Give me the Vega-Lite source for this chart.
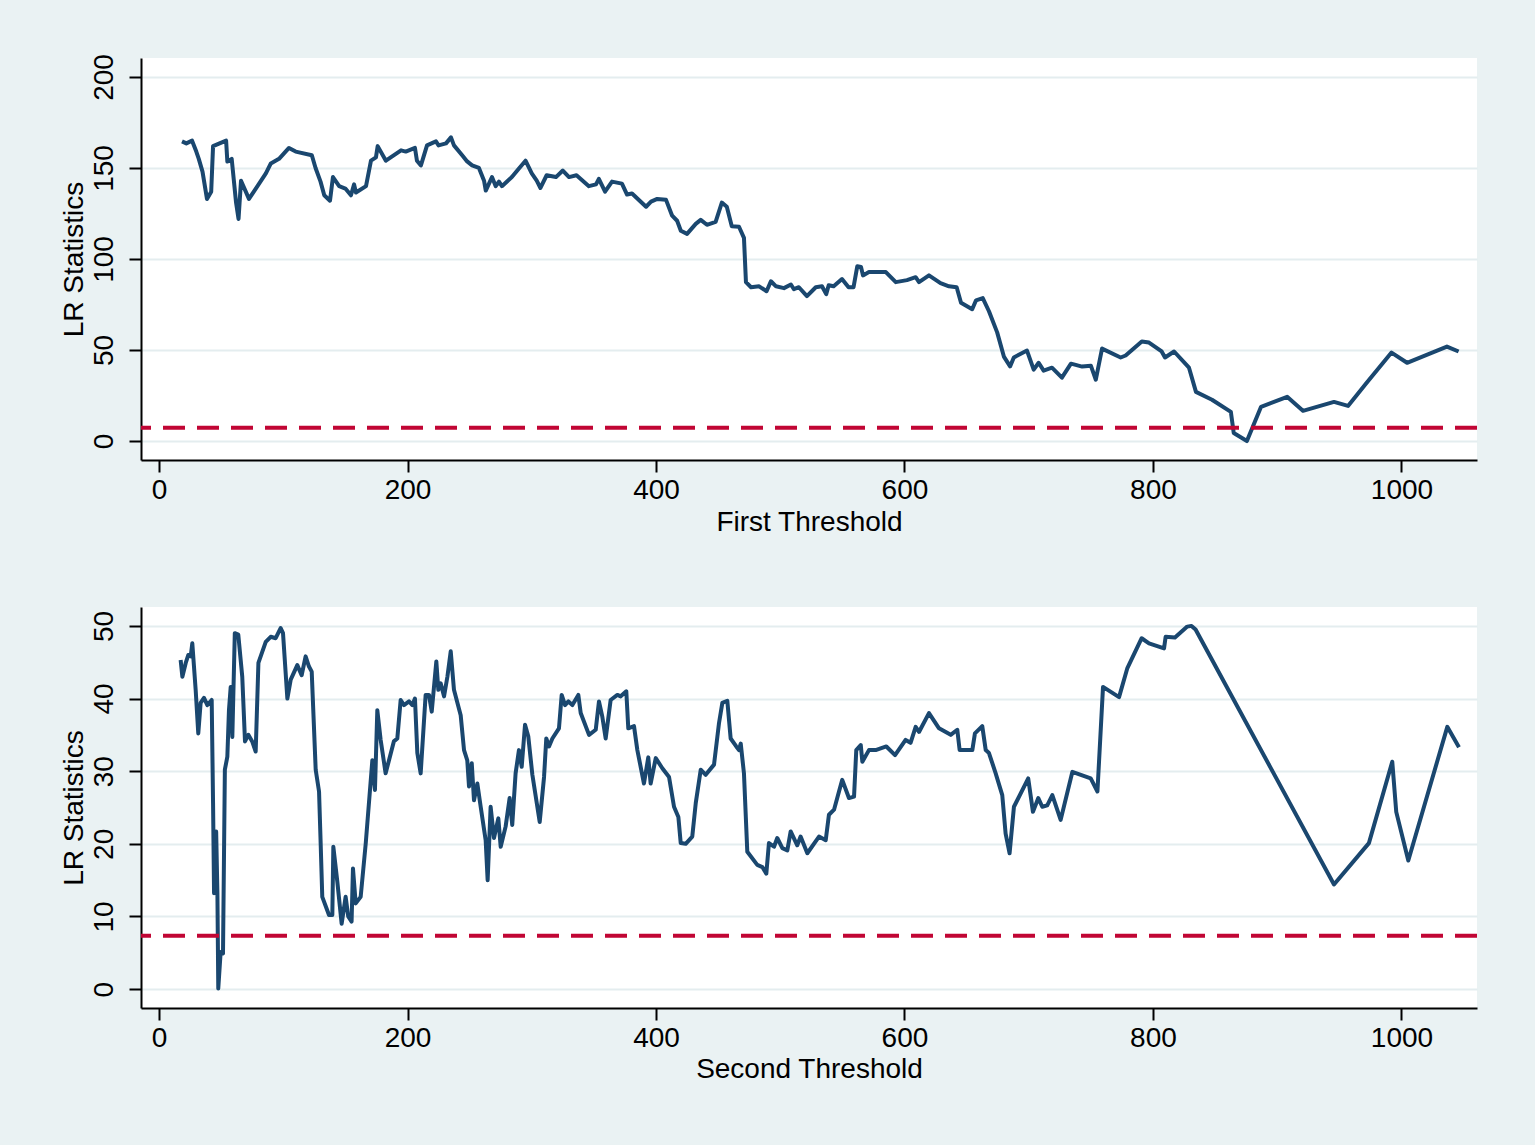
{
  "$schema": "https://vega.github.io/schema/vega-lite/v6.json",
  "background": "#eaf2f3",
  "padding": {"left": 59, "top": 53, "right": 57, "bottom": 66},
  "spacing": 147,
  "bounds": "flush",
  "config": {
    "font": "Liberation Sans",
    "view": {"stroke": null, "fill": "white"},
    "axis": {
      "domainColor": "black", "domainWidth": 2,
      "tickColor": "black", "tickWidth": 2, "tickSize": 12,
      "labelFontSize": 28, "titleFontSize": 28,
      "labelColor": "black", "titleColor": "black",
      "titleFontWeight": "normal", "labelFont": "Liberation Sans", "titleFont": "Liberation Sans",
      "gridColor": "#e4edef", "gridWidth": 2
    }
  },
  "datasets": {
    "top": [
      {"x":18.5,"y":164.6},{"x":22,"y":163.5},{"x":26.6,"y":165},{"x":30,"y":159},{"x":32,"y":155},{"x":35,"y":148},{"x":38.6,"y":133},{"x":42,"y":137},{"x":43.5,"y":162},{"x":54,"y":165},{"x":55,"y":153.5},{"x":58.5,"y":155},{"x":62,"y":131},{"x":64,"y":122},{"x":66,"y":143},{"x":72.4,"y":133},{"x":86,"y":147},{"x":90,"y":152.5},{"x":96.6,"y":155},{"x":104.6,"y":161},{"x":110,"y":159},{"x":123,"y":157},{"x":126,"y":150},{"x":130,"y":142.5},{"x":133,"y":135},{"x":137.6,"y":132},{"x":140,"y":145},{"x":145,"y":140},{"x":150,"y":138.7},{"x":154.5,"y":135},{"x":157,"y":141},{"x":158.5,"y":136.5},{"x":166.6,"y":140},{"x":170.6,"y":154},{"x":174.6,"y":155.8},{"x":176,"y":162},{"x":182.6,"y":154},{"x":194.8,"y":159.7},{"x":198.6,"y":159},{"x":206,"y":161},{"x":207.6,"y":154},{"x":210.8,"y":151.4},{"x":215.7,"y":162.4},{"x":222.9,"y":164.6},{"x":225,"y":162.4},{"x":231,"y":163.5},{"x":235,"y":166.8},{"x":237.4,"y":162.4},{"x":244,"y":157},{"x":248,"y":153.6},{"x":252,"y":151.4},{"x":257.5,"y":150},{"x":261.6,"y":143},{"x":263,"y":137.6},{"x":268,"y":145},{"x":271,"y":140},{"x":273.6,"y":142.5},{"x":276,"y":140},{"x":284,"y":145},{"x":289.7,"y":149.7},{"x":295,"y":154},{"x":300,"y":147},{"x":304,"y":143},{"x":307,"y":139},{"x":312,"y":146},{"x":319.5,"y":145},{"x":325,"y":148.6},{"x":330,"y":145},{"x":336,"y":146},{"x":346,"y":140},{"x":351.7,"y":141},{"x":354,"y":144},{"x":359,"y":137},{"x":364.6,"y":142.5},{"x":372.6,"y":141.4},{"x":376.7,"y":135.4},{"x":380.7,"y":136},{"x":392,"y":128.7},{"x":396,"y":131.5},{"x":401,"y":133},{"x":408,"y":132.6},{"x":413,"y":123.8},{"x":417,"y":121},{"x":420,"y":115.5},{"x":425,"y":113.8},{"x":432,"y":119.3},{"x":436,"y":121.5},{"x":441,"y":118.8},{"x":448,"y":120.4},{"x":453,"y":131},{"x":457,"y":128.7},{"x":461,"y":118},{"x":466.8,"y":117.7},{"x":470.8,"y":111.6},{"x":472.4,"y":87.3},{"x":476.5,"y":84.5},{"x":483,"y":85},{"x":489,"y":82.3},{"x":492.5,"y":87.8},{"x":496.6,"y":85},{"x":503,"y":84},{"x":508.6,"y":86},{"x":511,"y":83.4},{"x":515,"y":84.5},{"x":521.5,"y":79.6},{"x":528.6,"y":84.5},{"x":533.6,"y":85},{"x":537,"y":80.7},{"x":539,"y":85.6},{"x":543,"y":85},{"x":549.7,"y":89},{"x":555,"y":84.5},{"x":559,"y":84.5},{"x":562,"y":96},{"x":565,"y":95.6},{"x":566.6,"y":91},{"x":571.4,"y":92.8},{"x":585,"y":92.8},{"x":593,"y":87.3},{"x":602,"y":88.4},{"x":609,"y":90},{"x":611.7,"y":87.3},{"x":619.7,"y":91},{"x":629,"y":86.7},{"x":635.8,"y":85},{"x":642,"y":84.5},{"x":645.5,"y":76},{"x":654.5,"y":72.4},{"x":657.6,"y":77.3},{"x":663,"y":78.5},{"x":668,"y":71.3},{"x":674.6,"y":59.7},{"x":680,"y":46.4},{"x":685,"y":41},{"x":688,"y":45.9},{"x":698.6,"y":49.7},{"x":704,"y":39.2},{"x":708,"y":43},{"x":712,"y":38.7},{"x":718.7,"y":40.3},{"x":726.7,"y":34.8},{"x":734,"y":42.5},{"x":743,"y":40.9},{"x":750,"y":41.4},{"x":754,"y":33.7},{"x":759,"y":50.8},{"x":774,"y":45.9},{"x":778,"y":47},{"x":791,"y":54.7},{"x":796.8,"y":54.1},{"x":807,"y":49.2},{"x":809.7,"y":45.9},{"x":817,"y":49.2},{"x":829,"y":40.3},{"x":834.6,"y":27},{"x":847.5,"y":22.7},{"x":862.7,"y":16},{"x":865,"y":4.4},{"x":875.6,"y":0},{"x":887,"y":18.8},{"x":908,"y":24.3},{"x":920.7,"y":16.6},{"x":945.7,"y":21.5},{"x":957,"y":19.3},{"x":972,"y":32},{"x":992,"y":48.6},{"x":1004.5,"y":43},{"x":1036.6,"y":51.9},{"x":1046,"y":49.2}
    ],
    "bottom": [
      {"x":17.4,"y":45.3},{"x":18.8,"y":43},{"x":21.5,"y":44.9},{"x":23.6,"y":46},{"x":25.5,"y":45.8},{"x":26.8,"y":47.6},{"x":29.5,"y":41.2},{"x":31.6,"y":35.2},{"x":33.5,"y":39.4},{"x":36.2,"y":40.1},{"x":38.9,"y":39.1},{"x":42.4,"y":39.8},{"x":43.5,"y":25.6},{"x":44.3,"y":13.2},{"x":46,"y":21.7},{"x":47,"y":13.2},{"x":47.7,"y":0.1},{"x":49.6,"y":5.1},{"x":51.5,"y":4.9},{"x":53,"y":30.2},{"x":55,"y":32},{"x":56.3,"y":38.4},{"x":57.7,"y":41.6},{"x":59,"y":34.7},{"x":61,"y":49},{"x":63.8,"y":48.8},{"x":67,"y":43},{"x":69.2,"y":34.1},{"x":71.9,"y":35},{"x":75,"y":34.1},{"x":77.8,"y":32.7},{"x":80,"y":44.9},{"x":85.9,"y":47.8},{"x":89.9,"y":48.5},{"x":93.9,"y":48.3},{"x":97.9,"y":49.7},{"x":99.8,"y":49},{"x":103.3,"y":40},{"x":106,"y":42.6},{"x":111.3,"y":44.6},{"x":114.8,"y":43.2},{"x":118,"y":45.8},{"x":120.7,"y":44.4},{"x":122.9,"y":43.7},{"x":126.1,"y":30.2},{"x":128.8,"y":27.2},{"x":130.1,"y":20.1},{"x":131.4,"y":12.7},{"x":136.8,"y":10.2},{"x":139.5,"y":10.2},{"x":140.3,"y":19.6},{"x":143.5,"y":14.8},{"x":147,"y":9},{"x":150.2,"y":12.7},{"x":152.3,"y":10},{"x":155,"y":9.3},{"x":156.1,"y":16.6},{"x":158.3,"y":11.8},{"x":162.3,"y":12.7},{"x":166.4,"y":20.1},{"x":171.7,"y":31.5},{"x":173.8,"y":27.4},{"x":175.7,"y":38.4},{"x":178.4,"y":34.3},{"x":182.4,"y":29.7},{"x":189,"y":34.1},{"x":191.8,"y":34.5},{"x":194.5,"y":39.8},{"x":197.2,"y":39.1},{"x":201.2,"y":39.6},{"x":203.9,"y":39.1},{"x":206,"y":40},{"x":207.9,"y":32.5},{"x":210.6,"y":29.7},{"x":214.6,"y":40.5},{"x":217.3,"y":40.5},{"x":219.5,"y":38.2},{"x":223.2,"y":45.1},{"x":224.8,"y":41.2},{"x":226.7,"y":42.1},{"x":229.4,"y":40.3},{"x":232.1,"y":43},{"x":234.8,"y":46.5},{"x":237.4,"y":41.2},{"x":242.8,"y":37.7},{"x":245.5,"y":32.9},{"x":248.1,"y":31.5},{"x":249.5,"y":27.9},{"x":251.7,"y":31.1},{"x":253.5,"y":26},{"x":256.2,"y":28.3},{"x":258.9,"y":25.1},{"x":262.9,"y":20.5},{"x":264.5,"y":15},{"x":266.9,"y":25.1},{"x":269.6,"y":20.8},{"x":273.1,"y":23.5},{"x":275,"y":19.6},{"x":279,"y":22.4},{"x":282.2,"y":26.3},{"x":284.3,"y":22.6},{"x":287,"y":29.7},{"x":289.7,"y":32.9},{"x":291.9,"y":30.6},{"x":294.6,"y":36.4},{"x":297.2,"y":34.8},{"x":300.5,"y":29.5},{"x":306.4,"y":23},{"x":309.9,"y":29.2},{"x":311.7,"y":34.5},{"x":313.9,"y":33.4},{"x":316.6,"y":34.5},{"x":321.9,"y":35.9},{"x":324.1,"y":40.5},{"x":326.8,"y":39.1},{"x":329.5,"y":39.6},{"x":332.7,"y":39.1},{"x":337.5,"y":40.5},{"x":339.4,"y":38},{"x":346.1,"y":35},{"x":351.5,"y":35.7},{"x":354.1,"y":39.6},{"x":356.8,"y":37.5},{"x":359.5,"y":34.5},{"x":363.5,"y":39.8},{"x":368.9,"y":40.5},{"x":371.6,"y":40.3},{"x":376.1,"y":41},{"x":377.7,"y":35.9},{"x":382.3,"y":36.2},{"x":385,"y":32.9},{"x":390.3,"y":28.3},{"x":393.8,"y":31.9},{"x":395.7,"y":28.3},{"x":399.8,"y":31.8},{"x":405.1,"y":30.4},{"x":410.5,"y":29.2},{"x":414.5,"y":25.1},{"x":418,"y":23.7},{"x":419.9,"y":20.1},{"x":423.9,"y":20},{"x":429.2,"y":21},{"x":432,"y":25.6},{"x":436,"y":30.2},{"x":440,"y":29.5},{"x":446.7,"y":30.9},{"x":450.7,"y":36.6},{"x":453.4,"y":39.4},{"x":457.4,"y":39.7},{"x":460.1,"y":34.5},{"x":464.6,"y":33.4},{"x":466.8,"y":32.9},{"x":468.2,"y":33.8},{"x":470.8,"y":29.7},{"x":473.5,"y":18.9},{"x":481.5,"y":17.1},{"x":485.6,"y":16.8},{"x":488.8,"y":15.9},{"x":490.9,"y":20.1},{"x":495,"y":19.6},{"x":497.6,"y":20.8},{"x":501.7,"y":19.4},{"x":505.7,"y":19.1},{"x":508.4,"y":21.7},{"x":513.7,"y":19.8},{"x":516.4,"y":21},{"x":521.8,"y":18.7},{"x":531.2,"y":21},{"x":536.6,"y":20.5},{"x":539.2,"y":24},{"x":543.3,"y":24.7},{"x":547.3,"y":27.2},{"x":549.9,"y":28.8},{"x":555.3,"y":26.3},{"x":559.4,"y":26.5},{"x":561.2,"y":32.9},{"x":564.8,"y":33.6},{"x":566.1,"y":31.3},{"x":571.4,"y":32.9},{"x":576.8,"y":32.9},{"x":585.4,"y":33.4},{"x":592.4,"y":32.2},{"x":600.9,"y":34.3},{"x":604.9,"y":33.9},{"x":609,"y":36.1},{"x":611.7,"y":35.4},{"x":619.7,"y":38},{"x":627.8,"y":35.9},{"x":637.2,"y":35},{"x":642.5,"y":35.7},{"x":644.4,"y":32.9},{"x":654.6,"y":32.9},{"x":656.7,"y":35.2},{"x":662.6,"y":36.2},{"x":665.4,"y":32.9},{"x":668,"y":32.5},{"x":673.4,"y":29.7},{"x":678.7,"y":26.7},{"x":681.4,"y":21.4},{"x":684.6,"y":18.7},{"x":688.1,"y":25.1},{"x":699.6,"y":29},{"x":703.4,"y":24.4},{"x":707.7,"y":26.3},{"x":710.9,"y":25.1},{"x":714.9,"y":25.3},{"x":719,"y":26.7},{"x":725.7,"y":23.3},{"x":735.1,"y":29.9},{"x":749.9,"y":29},{"x":755.3,"y":27.2},{"x":759.8,"y":41.6},{"x":772.7,"y":40.2},{"x":779.4,"y":44.2},{"x":790.9,"y":48.3},{"x":796.8,"y":47.6},{"x":808.9,"y":46.9},{"x":810.2,"y":48.5},{"x":817.7,"y":48.4},{"x":827.6,"y":49.9},{"x":831,"y":50},{"x":834.3,"y":49.5},{"x":945.7,"y":14.4},{"x":973.8,"y":20.1},{"x":992.6,"y":31.3},{"x":995.8,"y":24.4},{"x":1005.5,"y":17.7},{"x":1036.9,"y":36.1},{"x":1046.3,"y":33.3}
    ]
  },
  "vconcat": [
    {
      "width": 1336, "height": 402,
      "layer": [
        {
          "data": {"name": "top"},
          "mark": {"type": "line", "color": "#1a476f", "strokeWidth": 4, "strokeJoin": "round"},
          "encoding": {
            "x": {"field": "x", "type": "quantitative", "scale": {"domain": [-14.5, 1060.8], "nice": false, "zero": false},
                  "axis": {"title": "First Threshold", "values": [0,200,400,600,800,1000], "format": "d", "grid": false, "labelPadding": 4, "titlePadding": 4}},
            "y": {"field": "y", "type": "quantitative", "scale": {"domain": [-10.4, 210.4], "nice": false, "zero": false},
                  "axis": {"title": "LR Statistics", "values": [0,50,100,150,200], "format": "d", "grid": true, "labelAngle": -90, "labelAlign": "center", "labelBaseline": "bottom", "labelPadding": 11, "titlePadding": 2}}
          }
        },
        {
          "data": {"values": [{"c": 7.35}]},
          "mark": {"type": "rule", "color": "#c10534", "strokeWidth": 4, "strokeDash": [22, 12]},
          "encoding": {"y": {"field": "c", "type": "quantitative"}}
        }
      ]
    },
    {
      "width": 1336, "height": 401,
      "layer": [
        {
          "data": {"name": "bottom"},
          "mark": {"type": "line", "color": "#1a476f", "strokeWidth": 4, "strokeJoin": "round"},
          "encoding": {
            "x": {"field": "x", "type": "quantitative", "scale": {"domain": [-14.5, 1060.8], "nice": false, "zero": false},
                  "axis": {"title": "Second Threshold", "values": [0,200,400,600,800,1000], "format": "d", "grid": false, "labelPadding": 4, "titlePadding": 3}},
            "y": {"field": "y", "type": "quantitative", "scale": {"domain": [-2.6, 52.6], "nice": false, "zero": false},
                  "axis": {"title": "LR Statistics", "values": [0,10,20,30,40,50], "format": "d", "grid": true, "labelAngle": -90, "labelAlign": "center", "labelBaseline": "bottom", "labelPadding": 11, "titlePadding": 2}}
          }
        },
        {
          "data": {"values": [{"c": 7.35}]},
          "mark": {"type": "rule", "color": "#c10534", "strokeWidth": 4, "strokeDash": [22, 12]},
          "encoding": {"y": {"field": "c", "type": "quantitative"}}
        }
      ]
    }
  ]
}
